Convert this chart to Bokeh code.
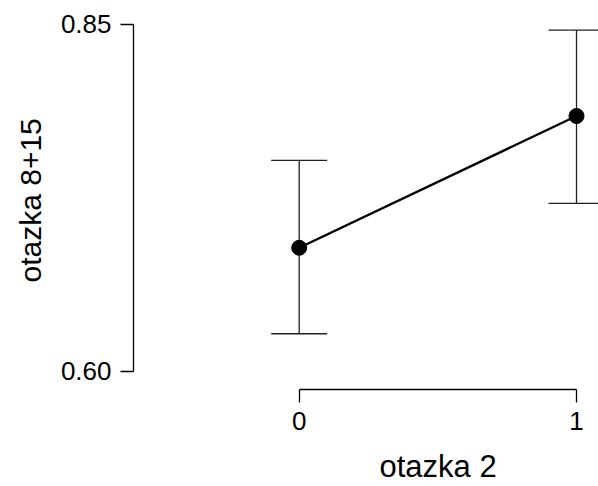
from bokeh.plotting import figure
from bokeh.models import Range1d, FixedTicker, Whisker, TeeHead, ColumnDataSource, Title
from bokeh.embed import file_html
from bokeh.resources import INLINE

# data
groups = [0, 1]
means = [0.689, 0.784]
ci_lower = [0.627, 0.721]
ci_upper = [0.752, 0.846]
x_ticks = [0, 1]
y_ticks = [0.60, 0.85]
x_title = "otazka 2"
y_title = "otazka 8+15"

FONT = "Liberation Sans"

src = ColumnDataSource(dict(x=groups, y=means, lo=ci_lower, hi=ci_upper))

p = figure(width=598, height=486, frame_width=466, frame_height=389,
           x_range=Range1d(-0.5975, 1.0829), y_range=Range1d(0.5868, 0.8673),
           output_backend="svg", toolbar_location=None,
           min_border_left=132, min_border_right=0, min_border_top=0, min_border_bottom=97)
p.outline_line_color = None
p.xgrid.visible = False
p.ygrid.visible = False
p.background_fill_color = "white"
p.border_fill_color = "white"

# axes
p.xaxis.ticker = FixedTicker(ticks=x_ticks)
p.yaxis.ticker = FixedTicker(ticks=y_ticks)
p.xaxis.bounds = (x_ticks[0], x_ticks[-1])
p.yaxis.bounds = (y_ticks[0], y_ticks[-1])
p.yaxis.major_label_overrides = {t: f"{t:.2f}" for t in y_ticks}
p.xaxis.major_label_overrides = {t: str(t) for t in x_ticks}
for ax in (p.xaxis, p.yaxis):
    ax.axis_line_color = "black"
    ax.axis_line_width = 1.3
    ax.major_tick_line_color = "black"
    ax.major_tick_line_width = 1.3
    ax.major_tick_in = 0
    ax.major_tick_out = 13
    ax.minor_tick_line_color = None
    ax.major_label_text_font = FONT
    ax.major_label_text_font_size = "26px"
    ax.major_label_text_color = "black"
    ax.major_label_standoff = 9

# axis titles placed over the data extent
p.add_layout(Title(text=y_title, align="left", offset=107, standoff=22,
                   text_font=FONT, text_font_size="30px", text_font_style="normal",
                   text_color="black"), "left")
p.add_layout(Title(text=x_title, align="left", offset=246, standoff=28,
                   text_font=FONT, text_font_size="31px", text_font_style="normal",
                   text_color="black"), "below")

# error bars
wh = Whisker(source=src, base="x", lower="lo", upper="hi", dimension="height",
             line_color="#222222", line_width=1.3,
             upper_head=TeeHead(size=56, line_color="#222222", line_width=1.3),
             lower_head=TeeHead(size=56, line_color="#222222", line_width=1.3))
p.add_layout(wh)

p.line("x", "y", source=src, line_color="black", line_width=2.3)
p.scatter("x", "y", source=src, size=15, fill_color="black", line_color="black")

open("out.html", "w").write(file_html(p, INLINE))
